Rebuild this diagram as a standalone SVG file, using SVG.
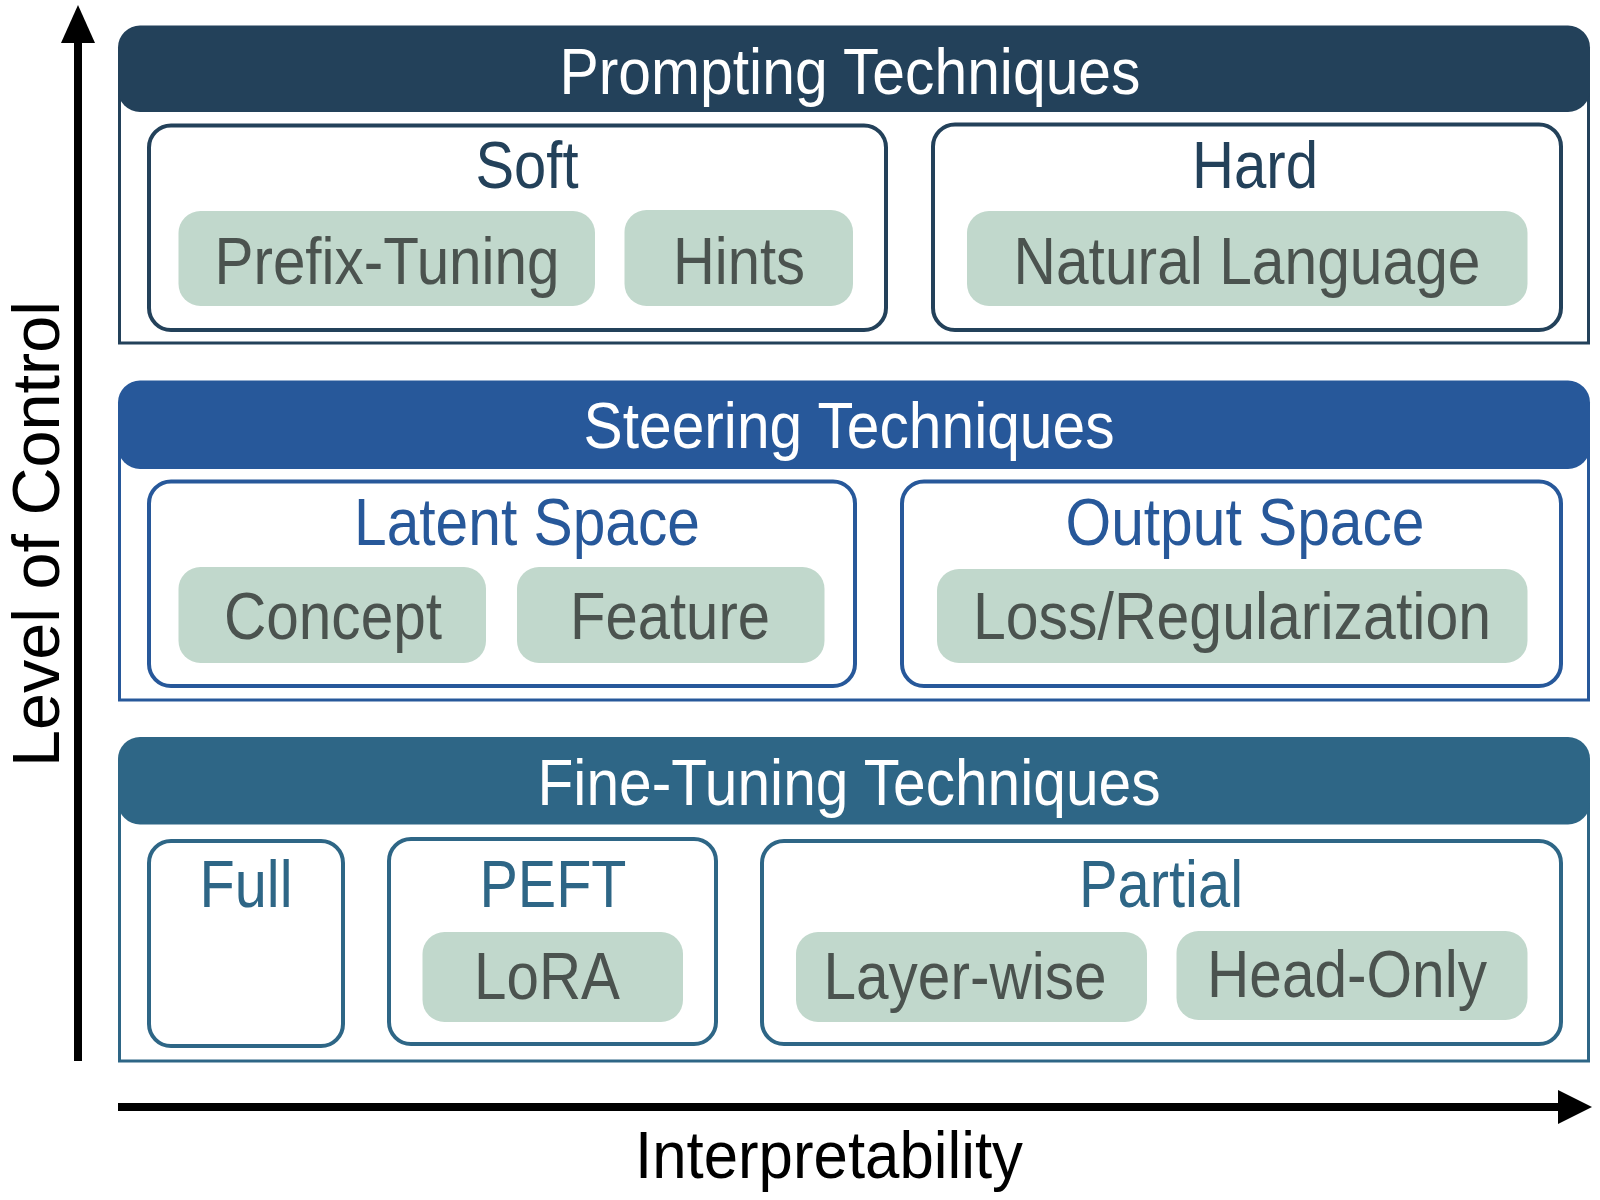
<svg xmlns="http://www.w3.org/2000/svg" width="1600" height="1200" viewBox="0 0 1600 1200">
<style>
text{font-family:"Liberation Sans",Arial,sans-serif;text-anchor:middle}
.title{fill:#ffffff;font-size:64px}
.sub{font-size:66px}
.pilltxt{fill:#4b534f;font-size:66px}
.pill{fill:#c1d8cc}
.axis{stroke:#000;stroke-width:8}
.axtxt{fill:#000;font-size:66px}
</style>
<g id="axes">
<line class="axis" x1="78" y1="1061" x2="78" y2="38"/>
<polygon points="78,5 61,43 95,43" fill="#000"/>
<line class="axis" x1="118" y1="1107" x2="1562" y2="1107"/>
<polygon points="1592,1107 1558,1090 1558,1124" fill="#000"/>
<text class="axtxt" x="829" y="1178" textLength="388" lengthAdjust="spacingAndGlyphs">Interpretability</text>
<text class="axtxt" transform="translate(59,534) rotate(-90)" textLength="466" lengthAdjust="spacingAndGlyphs">Level of Control</text>
</g>
<g id="prompting">
<rect x="119.5" y="70" width="1469" height="273" fill="#fff" stroke="#23415a" stroke-width="3"/>
<rect x="118" y="25.5" width="1472" height="86.5" rx="22" fill="#23415a"/>
<text class="title" x="850" y="94" textLength="581" lengthAdjust="spacingAndGlyphs">Prompting Techniques</text>
<g id="soft">
<rect x="149" y="125.5" width="737" height="204.5" rx="22" fill="#fff" stroke="#23415a" stroke-width="4"/>
<text class="sub" x="527" y="188" fill="#23415a" textLength="103" lengthAdjust="spacingAndGlyphs">Soft</text>
<g id="prefix"><rect class="pill" x="178.5" y="211" width="416.5" height="95" rx="22"/><text class="pilltxt" x="387" y="284" textLength="345" lengthAdjust="spacingAndGlyphs">Prefix-Tuning</text></g>
<g id="hints"><rect class="pill" x="624.5" y="210" width="228.5" height="96" rx="22"/><text class="pilltxt" x="739" y="284" textLength="132" lengthAdjust="spacingAndGlyphs">Hints</text></g>
</g>
<g id="hard">
<rect x="933" y="124.5" width="628" height="205.5" rx="22" fill="#fff" stroke="#23415a" stroke-width="4"/>
<text class="sub" x="1255" y="188" fill="#23415a" textLength="126" lengthAdjust="spacingAndGlyphs">Hard</text>
<g id="natural"><rect class="pill" x="967" y="211" width="560.5" height="95" rx="22"/><text class="pilltxt" x="1247" y="284" textLength="467" lengthAdjust="spacingAndGlyphs">Natural Language</text></g>
</g>
</g>
<g id="steering">
<rect x="119.5" y="425" width="1469" height="275" fill="#fff" stroke="#27589a" stroke-width="3"/>
<rect x="118" y="380.5" width="1472" height="88.5" rx="22" fill="#27589a"/>
<text class="title" x="849" y="448" textLength="531" lengthAdjust="spacingAndGlyphs">Steering Techniques</text>
<g id="latent">
<rect x="149" y="481.5" width="706" height="204.5" rx="22" fill="#fff" stroke="#27589a" stroke-width="4"/>
<text class="sub" x="527" y="545" fill="#27589a" textLength="346" lengthAdjust="spacingAndGlyphs">Latent Space</text>
<g id="concept"><rect class="pill" x="178.5" y="567" width="307.5" height="96" rx="22"/><text class="pilltxt" x="333" y="639" textLength="218" lengthAdjust="spacingAndGlyphs">Concept</text></g>
<g id="feature"><rect class="pill" x="517" y="567" width="307.5" height="96" rx="22"/><text class="pilltxt" x="670" y="639" textLength="200" lengthAdjust="spacingAndGlyphs">Feature</text></g>
</g>
<g id="output">
<rect x="902" y="481.5" width="659" height="204.5" rx="22" fill="#fff" stroke="#27589a" stroke-width="4"/>
<text class="sub" x="1245" y="545" fill="#27589a" textLength="359" lengthAdjust="spacingAndGlyphs">Output Space</text>
<g id="loss"><rect class="pill" x="937" y="569" width="590.5" height="94" rx="22"/><text class="pilltxt" x="1232" y="639" textLength="518" lengthAdjust="spacingAndGlyphs">Loss/Regularization</text></g>
</g>
</g>
<g id="finetuning">
<rect x="119.5" y="780" width="1469" height="281" fill="#fff" stroke="#2e6686" stroke-width="3"/>
<rect x="118" y="737" width="1472" height="87.5" rx="22" fill="#2e6686"/>
<text class="title" x="849" y="805" textLength="623" lengthAdjust="spacingAndGlyphs">Fine-Tuning Techniques</text>
<g id="full">
<rect x="149" y="841" width="194" height="205" rx="22" fill="#fff" stroke="#2e6686" stroke-width="4"/>
<text class="sub" x="246" y="907" fill="#2e6686" textLength="93" lengthAdjust="spacingAndGlyphs">Full</text>
</g>
<g id="peft">
<rect x="389" y="839" width="327" height="205" rx="22" fill="#fff" stroke="#2e6686" stroke-width="4"/>
<text class="sub" x="553" y="907" fill="#2e6686" textLength="147" lengthAdjust="spacingAndGlyphs">PEFT</text>
<g id="lora"><rect class="pill" x="422.5" y="932" width="260.5" height="90" rx="22"/><text class="pilltxt" x="547" y="999" textLength="146" lengthAdjust="spacingAndGlyphs">LoRA</text></g>
</g>
<g id="partial">
<rect x="762" y="841" width="799" height="203" rx="22" fill="#fff" stroke="#2e6686" stroke-width="4"/>
<text class="sub" x="1161" y="907" fill="#2e6686" textLength="164" lengthAdjust="spacingAndGlyphs">Partial</text>
<g id="layerwise"><rect class="pill" x="796" y="932" width="351" height="90" rx="22"/><text class="pilltxt" x="965" y="999" textLength="283" lengthAdjust="spacingAndGlyphs">Layer-wise</text></g>
<g id="headonly"><rect class="pill" x="1176.5" y="931" width="351" height="89" rx="22"/><text class="pilltxt" x="1347" y="997" textLength="280" lengthAdjust="spacingAndGlyphs">Head-Only</text></g>
</g>
</g>
</svg>
